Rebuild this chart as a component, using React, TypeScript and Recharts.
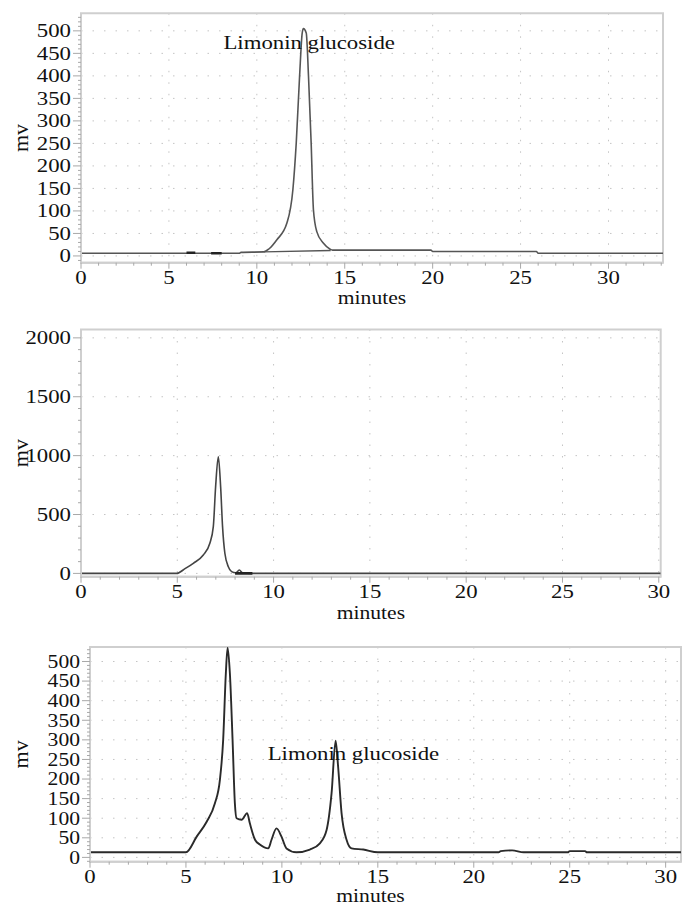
import { LineChart, Line, XAxis, YAxis, CartesianGrid, ReferenceArea, ReferenceDot } from "recharts"

// --- top: limonin glucoside standard ---
const stdTime = [0, 6.0, 7.4, 9.0, 9.1, 10.4, 10.7, 11.14, 11.71, 12.05, 12.24, 12.43, 12.58, 12.65, 12.81, 12.94, 13.09, 13.22, 13.41, 13.79, 14.17, 14.3, 19.9, 20.0, 25.9, 26.0, 33.1]
const stdMv = [6, 6, 6, 6, 8, 9, 16, 36, 73, 147, 250, 398, 495, 505, 495, 398, 250, 102, 54, 28, 15, 13, 13, 10, 10, 6, 6]
const stdBaseTime = [10.4, 14.2]
const stdBaseMv = [9, 12]
const stdMarkTime = [6.0, 6.5, 6.9, 7.4, 8.0]
const stdMarkMv = [7, 7, null, 6, 6]

// --- middle: sample, first peak only ---
const midTime = [0, 4.97, 5.4, 5.83, 6.35, 6.69, 6.87, 6.99, 7.13, 7.25, 7.35, 7.47, 7.65, 7.82, 8.04, 8.22, 8.39, 8.86, 30.1]
const midMv = [0, 0, 40, 86, 156, 256, 397, 737, 990, 737, 397, 171, 57, 15, 5, 29, 5, 0, 0]
const midMarkTime = [8.0, 8.9]
const midMarkMv = [0, 0]

// --- bottom: sample extract ---
const extTime = [0, 5.0, 5.56, 6.08, 6.51, 6.77, 6.94, 7.08, 7.17, 7.29, 7.43, 7.55, 7.64, 7.9, 8.19, 8.33, 8.6, 8.85, 9.29, 9.46, 9.72, 9.98, 10.24, 10.76, 11.46, 11.98, 12.33, 12.59, 12.8, 12.93, 13.11, 13.37, 13.63, 14.24, 15.0, 21.3, 21.4, 22.0, 22.6, 24.9, 25.0, 25.8, 25.9, 30.8]
const extMv = [13, 13, 53, 91, 138, 198, 300, 470, 535, 470, 300, 138, 100, 96, 113, 87, 45, 33, 23, 45, 74, 53, 23, 13, 20, 36, 70, 164, 298, 232, 113, 45, 23, 20, 13, 13, 16, 18, 13, 13, 16, 16, 13, 13]

const xMinor = (max: number) => Array.from({ length: Math.floor(max) + 1 }, (_, i) => i)
const range = (a: number, b: number, s: number) => Array.from({ length: Math.round((b - a) / s) + 1 }, (_, i) => a + i * s)

const pts = (ts: number[], vs: (number | null)[]) => ts.map((t, i) => ({ t, v: vs[i] }))

const FONT = "'Liberation Serif', 'Times New Roman', Times, serif"
const txt = { fontFamily: FONT, fontSize: 19, fill: "#111" }
const FRAME = "#cfcfcf"
const TICK = "#a8a8a8"

const xTick = (props: any) => {
  const { x, y, payload } = props
  const v = payload.value
  const major = v % 5 === 0
  return (
    <g>
      <line x1={x} x2={x} y1={y} y2={y + (major ? 6 : 3)} stroke={TICK} />
      {major && (
        <text transform={`translate(${x},${y + 15}) scale(1.2,1)`} textAnchor="middle" dominantBaseline="central" style={txt}>
          {v}
        </text>
      )}
    </g>
  )
}

const yTick = (step: number, fs: number) => (props: any) => {
  const { x, y, payload } = props
  const v = payload.value
  const major = v % step === 0 && v >= 0
  return (
    <g>
      <line x1={x - (major ? 8 : 3)} x2={x} y1={y} y2={y} stroke={TICK} />
      {major && (
        <text transform={`translate(${x - 10},${y}) scale(1.2,1)`} textAnchor="end" dominantBaseline="central" style={{ ...txt, fontSize: fs }}>
          {v}
        </text>
      )}
    </g>
  )
}

const MinutesLabel = (props: any) => {
  const vb = props.viewBox || {}
  return (
    <text transform={`translate(${vb.x + vb.width / 2 + (props.dx || 0)},${vb.y + (props.dy || 35)}) scale(1.2,1)`} textAnchor="middle" dominantBaseline="central" style={{ ...txt, fontSize: 18 }}>
      minutes
    </text>
  )
}

const MvLabel = (props: any) => {
  const vb = props.viewBox || {}
  return (
    <text transform={`translate(20,${vb.y + vb.height / 2}) rotate(-90)`} textAnchor="middle" dominantBaseline="central" style={{ ...txt, fontSize: 22 }}>
      mv
    </text>
  )
}

const Annot = (props: any) => {
  const vb = props.viewBox || {}
  return (
    <text transform={`translate(${vb.x + (vb.width || 0) / 2},${vb.y + (vb.height || 0) / 2}) scale(1.2,1)`} dominantBaseline="central" style={txt}>
      Limonin glucoside
    </text>
  )
}

type Series = { data: any[]; color: string; width: number }

function Panel(p: {
  top: number; height: number; mTop: number; mRight: number; yw: number; xh: number
  xMax: number; yMin: number; yMax: number; yTicks: number[]; yMajor: number[]; yStep: number
  series: Series[]; annot?: [number, number]; minutesDx?: number; minutesDy?: number; yFont?: number
}) {
  const xt = xMinor(p.xMax)
  const xMajor = xt.filter((v) => v % 5 === 0 && v > 0)
  return (
    <div style={{ position: "absolute", left: 0, top: p.top }}>
      <LineChart width={683} height={p.height} margin={{ top: p.mTop, right: p.mRight, left: 0, bottom: 0 }}>
        <CartesianGrid stroke="#c4c4c4" strokeDasharray="1.5 10" horizontalValues={p.yMajor} verticalValues={xMajor} />
        <XAxis dataKey="t" type="number" domain={[0, p.xMax]} allowDataOverflow ticks={xt} interval={0} height={p.xh}
          tickSize={0} tickMargin={0} tick={xTick} axisLine={{ stroke: FRAME, strokeWidth: 2 }}
          label={<MinutesLabel dx={p.minutesDx || 0} dy={p.minutesDy || 35} />} />
        <YAxis type="number" domain={[p.yMin, p.yMax]} allowDataOverflow ticks={p.yTicks} interval={0} width={p.yw}
          tickSize={0} tickMargin={0} tick={yTick(p.yStep, p.yFont || 19)} axisLine={{ stroke: FRAME, strokeWidth: 2 }}
          label={<MvLabel />} />
        <ReferenceArea x1={0} x2={p.xMax} y1={p.yMin} y2={p.yMax} fill="none" stroke={FRAME} strokeWidth={2} />
        {p.series.map((s, i) => (
          <Line key={i} data={s.data} dataKey="v" type="monotone" stroke={s.color} strokeWidth={s.width} dot={false} isAnimationActive={false} connectNulls={false} />
        ))}
        {p.annot && (
          <ReferenceDot x={p.annot[0]} y={p.annot[1]} r={0} fill="none" stroke="none" label={<Annot />} />
        )}
      </LineChart>
    </div>
  )
}

export default function App() {
  return (
    <div style={{ position: "absolute", left: 0, top: 0, width: 683, height: 906, background: "#fff" }}>
      <Panel top={0} height={312} mTop={13.3} mRight={20} yw={81} xh={49.3} xMax={33.1} yMin={-15} yMax={539}
        yTicks={range(-10, 530, 10)} yMajor={range(0, 500, 50)} yStep={50} annot={[8.1, 473]}
        series={[
          { data: pts(stdTime, stdMv), color: "#555", width: 1.6 },
          { data: pts(stdBaseTime, stdBaseMv), color: "#555", width: 1.4 },
          { data: pts(stdMarkTime, stdMarkMv), color: "#222", width: 2.6 },
        ]} />
      <Panel top={310} height={316} mTop={19.5} mRight={22.3} yw={81} xh={49.3} xMax={30.1} yMin={-28} yMax={2071}
        yTicks={range(0, 2000, 100)} yMajor={range(0, 2000, 500)} yStep={500} minutesDy={36}
        series={[
          { data: pts(midTime, midMv), color: "#444", width: 1.6 },
          { data: pts(midMarkTime, midMarkMv), color: "#222", width: 2.6 },
        ]} />
      <Panel top={620} height={286} mTop={27} mRight={2} yw={90} xh={44.3} xMax={30.8} yMin={-11} yMax={537}
        yTicks={range(-10, 530, 10)} yMajor={range(0, 500, 50)} yStep={50} annot={[9.26, 266]}
        minutesDx={-15} minutesDy={33.5} yFont={18}
        series={[
          { data: pts(extTime, extMv), color: "#2a2a2a", width: 1.9 },
        ]} />
    </div>
  )
}
